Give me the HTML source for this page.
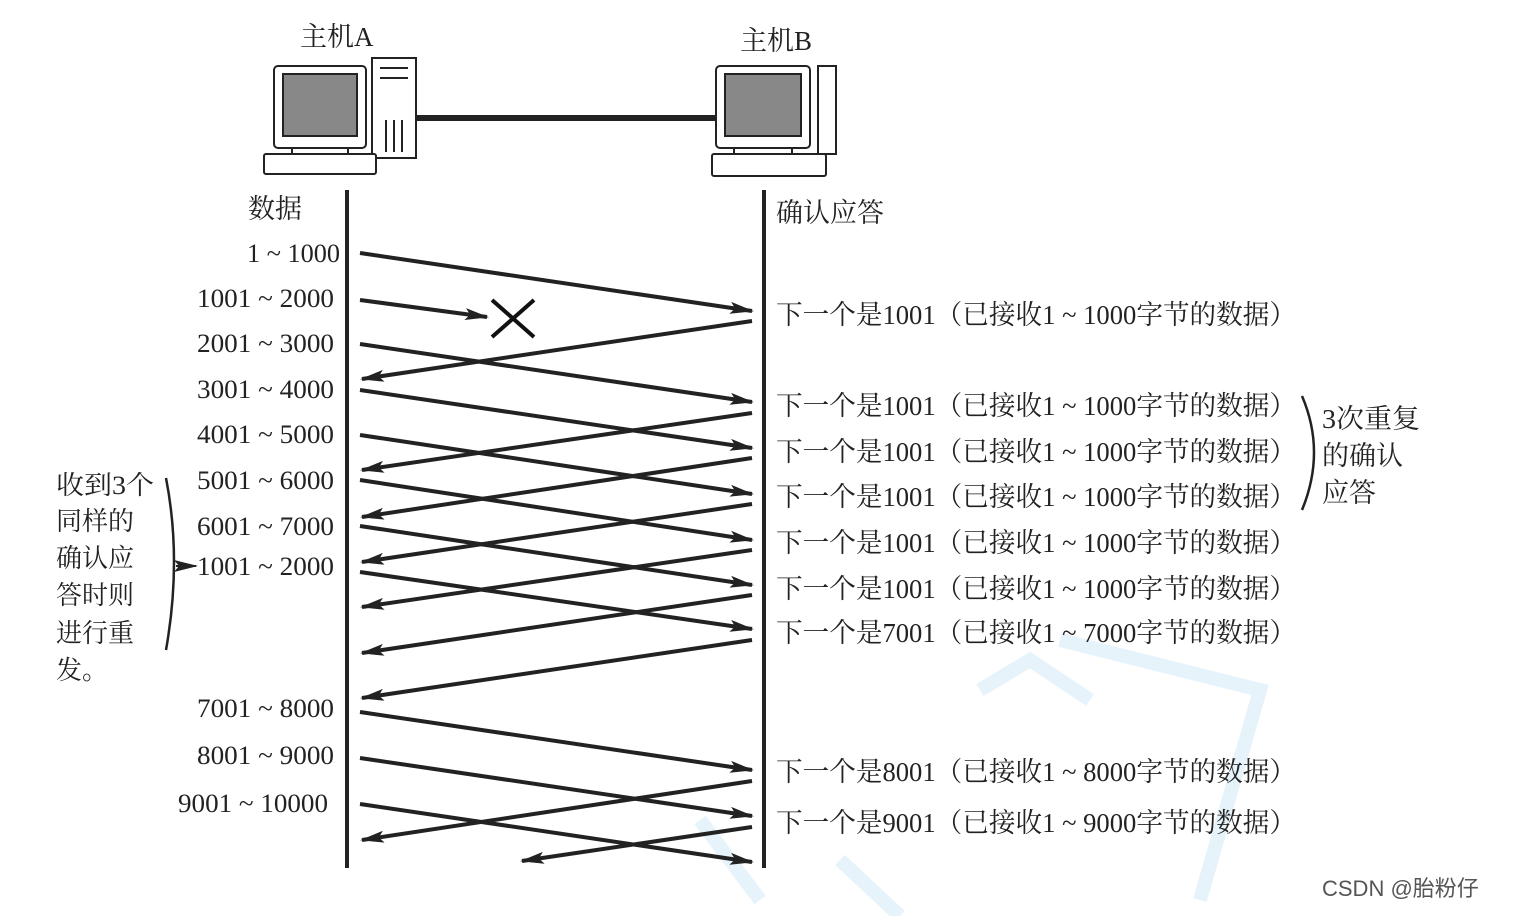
<!DOCTYPE html>
<html><head><meta charset="utf-8"><style>
html,body{margin:0;padding:0;background:#fff;}
svg{display:block;}
text{font-family:"Liberation Serif","Noto Serif CJK SC",serif;fill:#222;}
</style></head><body>
<svg width="1528" height="916" viewBox="0 0 1528 916" xmlns="http://www.w3.org/2000/svg">
<defs>
<marker id="ah" markerWidth="24" markerHeight="12" refX="22" refY="6" orient="auto" markerUnits="userSpaceOnUse">
<path d="M0,0 L24,6 L0,12 L5,6 Z" fill="#222"/>
</marker>
</defs>
<g stroke="#e6f3fb" stroke-width="14" fill="none">
<path d="M980,690 L1030,660 L1090,700"/>
<path d="M1060,640 L1260,690 L1200,900"/>
<path d="M700,820 L760,900"/>
<path d="M840,860 L900,916"/>
</g>
<g stroke="#222" stroke-width="2" fill="#fff">
<rect x="274" y="66" width="92" height="82" rx="4"/>
<rect x="283" y="74" width="74" height="62" fill="#888"/>
<rect x="292" y="148" width="56" height="6"/>
<rect x="372" y="58" width="44" height="100"/>
<line x1="380" y1="68" x2="408" y2="68"/>
<line x1="380" y1="78" x2="408" y2="78"/>
<line x1="386" y1="120" x2="386" y2="152"/>
<line x1="394" y1="120" x2="394" y2="152"/>
<line x1="402" y1="120" x2="402" y2="152"/>
<rect x="264" y="154" width="112" height="20" rx="2"/>
<rect x="716" y="66" width="94" height="82" rx="4"/>
<rect x="725" y="74" width="76" height="62" fill="#888"/>
<rect x="734" y="148" width="58" height="6"/>
<rect x="818" y="66" width="18" height="88"/>
<rect x="712" y="154" width="114" height="22" rx="2"/>
</g>
<line x1="416" y1="118" x2="716" y2="118" stroke="#222" stroke-width="6"/>
<text x="300" y="46" font-size="27">主机A</text>
<text x="740" y="50" font-size="27">主机B</text>
<line x1="347" y1="190" x2="347" y2="868" stroke="#222" stroke-width="4"/>
<line x1="764" y1="190" x2="764" y2="868" stroke="#222" stroke-width="4"/>
<text x="248" y="218" font-size="27">数据</text>
<text x="776" y="222" font-size="27">确认应答</text>
<g font-size="26" lengthAdjust="spacingAndGlyphs">
<text x="247" y="262" textLength="93" lengthAdjust="spacingAndGlyphs">1 ~ 1000</text>
<text x="197" y="307" textLength="137" lengthAdjust="spacingAndGlyphs">1001 ~ 2000</text>
<text x="197" y="352" textLength="137" lengthAdjust="spacingAndGlyphs">2001 ~ 3000</text>
<text x="197" y="398" textLength="137" lengthAdjust="spacingAndGlyphs">3001 ~ 4000</text>
<text x="197" y="443" textLength="137" lengthAdjust="spacingAndGlyphs">4001 ~ 5000</text>
<text x="197" y="489" textLength="137" lengthAdjust="spacingAndGlyphs">5001 ~ 6000</text>
<text x="197" y="535" textLength="137" lengthAdjust="spacingAndGlyphs">6001 ~ 7000</text>
<text x="197" y="575" textLength="137" lengthAdjust="spacingAndGlyphs">1001 ~ 2000</text>
<text x="197" y="717" textLength="137" lengthAdjust="spacingAndGlyphs">7001 ~ 8000</text>
<text x="197" y="764" textLength="137" lengthAdjust="spacingAndGlyphs">8001 ~ 9000</text>
<text x="178" y="812" textLength="150" lengthAdjust="spacingAndGlyphs">9001 ~ 10000</text>
</g>
<g font-size="26">
<text x="56" y="494" textLength="98" lengthAdjust="spacingAndGlyphs">收到3个</text>
<text x="56" y="530">同样的</text>
<text x="56" y="567">确认应</text>
<text x="56" y="604">答时则</text>
<text x="56" y="642">进行重</text>
<text x="56" y="679">发。</text>
</g>
<path d="M166,478 Q182,560 166,650" stroke="#222" stroke-width="2.5" fill="none"/>
<line x1="176" y1="566" x2="196" y2="566" stroke="#222" stroke-width="2" marker-end="url(#ah)"/>
<g font-size="27">
<text x="776" y="324" textLength="520" lengthAdjust="spacingAndGlyphs">下一个是1001（已接收1 ~ 1000字节的数据）</text>
<text x="776" y="415" textLength="520" lengthAdjust="spacingAndGlyphs">下一个是1001（已接收1 ~ 1000字节的数据）</text>
<text x="776" y="461" textLength="520" lengthAdjust="spacingAndGlyphs">下一个是1001（已接收1 ~ 1000字节的数据）</text>
<text x="776" y="506" textLength="520" lengthAdjust="spacingAndGlyphs">下一个是1001（已接收1 ~ 1000字节的数据）</text>
<text x="776" y="552" textLength="520" lengthAdjust="spacingAndGlyphs">下一个是1001（已接收1 ~ 1000字节的数据）</text>
<text x="776" y="598" textLength="520" lengthAdjust="spacingAndGlyphs">下一个是1001（已接收1 ~ 1000字节的数据）</text>
<text x="776" y="642" textLength="520" lengthAdjust="spacingAndGlyphs">下一个是7001（已接收1 ~ 7000字节的数据）</text>
<text x="776" y="781" textLength="520" lengthAdjust="spacingAndGlyphs">下一个是8001（已接收1 ~ 8000字节的数据）</text>
<text x="776" y="832" textLength="520" lengthAdjust="spacingAndGlyphs">下一个是9001（已接收1 ~ 9000字节的数据）</text>
<text x="1322" y="428" textLength="98" lengthAdjust="spacingAndGlyphs">3次重复</text>
<text x="1322" y="465">的确认</text>
<text x="1322" y="502">应答</text>
</g>
<path d="M1302,396 Q1326,452 1302,510" stroke="#222" stroke-width="2.5" fill="none"/>
<g stroke="#111" stroke-width="4">
<line x1="492" y1="300" x2="534" y2="337"/>
<line x1="534" y1="300" x2="492" y2="337"/>
</g>
<g stroke="#222" stroke-width="4" marker-end="url(#ah)">
<line x1="360" y1="253" x2="752" y2="311"/>
<line x1="360" y1="300" x2="487" y2="317"/>
<line x1="360" y1="344" x2="752" y2="402"/>
<line x1="360" y1="390" x2="752" y2="448"/>
<line x1="360" y1="435" x2="752" y2="494"/>
<line x1="360" y1="480" x2="752" y2="540"/>
<line x1="360" y1="526" x2="752" y2="585"/>
<line x1="360" y1="572" x2="752" y2="629"/>
<line x1="360" y1="712" x2="752" y2="770"/>
<line x1="360" y1="758" x2="752" y2="816"/>
<line x1="360" y1="804" x2="752" y2="862"/>
<line x1="752" y1="321" x2="362" y2="379"/>
<line x1="752" y1="413" x2="362" y2="470"/>
<line x1="752" y1="458" x2="362" y2="517"/>
<line x1="752" y1="504" x2="362" y2="562"/>
<line x1="752" y1="550" x2="362" y2="607"/>
<line x1="752" y1="595" x2="362" y2="653"/>
<line x1="752" y1="640" x2="362" y2="698"/>
<line x1="752" y1="781" x2="362" y2="840"/>
<line x1="752" y1="827" x2="522" y2="861"/>
</g>
<text x="1322" y="896" font-size="22" style="font-family:'Liberation Sans','Noto Sans CJK SC',sans-serif;fill:#555">CSDN @胎粉仔</text>
</svg>
</body></html>
